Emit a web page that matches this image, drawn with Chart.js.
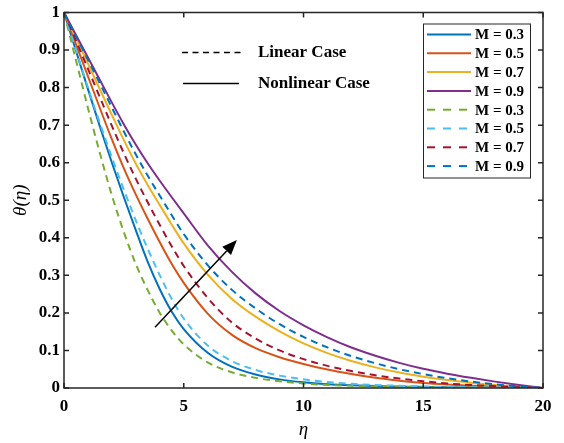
<!DOCTYPE html>
<html>
<head>
<meta charset="utf-8">
<script src="https://cdn.jsdelivr.net/npm/chart.js@4.4.1/dist/chart.umd.min.js"></script>
<style>
  html, body { margin: 0; padding: 0; background: #fff; }
</style>
</head>
<body>
<canvas id="c" width="564" height="443"></canvas>
<script>
// eta grid and temperature profiles theta(eta)
const eta = [0, 0.5, 1, 1.5, 2, 2.5, 3, 3.5, 4, 4.5, 5, 6, 7, 8, 9, 10, 11, 12, 13, 14, 15, 16, 17, 18, 19, 20];

const nonlinearM03 = [1, 0.898, 0.796, 0.696, 0.6, 0.508, 0.42, 0.335, 0.263, 0.203, 0.157, 0.094, 0.057, 0.036, 0.023, 0.015, 0.01, 0.007, 0.005, 0.004, 0.003, 0.002, 0.0015, 0.001, 0.0005, 0];
const nonlinearM05 = [1, 0.915, 0.83, 0.745, 0.662, 0.585, 0.515, 0.45, 0.388, 0.33, 0.28, 0.198, 0.142, 0.106, 0.082, 0.064, 0.049, 0.037, 0.027, 0.019, 0.013, 0.009, 0.006, 0.004, 0.002, 0];
const nonlinearM07 = [1, 0.932, 0.864, 0.795, 0.727, 0.66, 0.597, 0.54, 0.487, 0.435, 0.385, 0.302, 0.238, 0.19, 0.151, 0.119, 0.093, 0.072, 0.055, 0.041, 0.03, 0.021, 0.014, 0.008, 0.004, 0];
const nonlinearM09 = [1, 0.94, 0.88, 0.82, 0.76, 0.702, 0.648, 0.598, 0.552, 0.508, 0.465, 0.38, 0.31, 0.252, 0.205, 0.167, 0.135, 0.108, 0.086, 0.067, 0.051, 0.038, 0.027, 0.017, 0.008, 0];

const linearM03 = [1, 0.873, 0.746, 0.625, 0.513, 0.415, 0.33, 0.26, 0.2, 0.153, 0.116, 0.068, 0.042, 0.027, 0.018, 0.012, 0.008, 0.006, 0.004, 0.003, 0.002, 0.0015, 0.001, 0.001, 0.0005, 0];
const linearM05 = [1, 0.9, 0.8, 0.705, 0.614, 0.528, 0.446, 0.37, 0.3, 0.237, 0.185, 0.113, 0.072, 0.048, 0.033, 0.023, 0.016, 0.011, 0.008, 0.006, 0.004, 0.003, 0.002, 0.0015, 0.001, 0];
const linearM07 = [1, 0.925, 0.85, 0.774, 0.698, 0.625, 0.557, 0.494, 0.434, 0.377, 0.325, 0.24, 0.175, 0.132, 0.1, 0.077, 0.059, 0.045, 0.034, 0.025, 0.018, 0.012, 0.008, 0.005, 0.002, 0];
const linearM09 = [1, 0.937, 0.874, 0.811, 0.747, 0.683, 0.622, 0.565, 0.512, 0.46, 0.41, 0.327, 0.262, 0.212, 0.17, 0.136, 0.108, 0.085, 0.066, 0.05, 0.037, 0.026, 0.017, 0.01, 0.004, 0];

const mValues = ["0.3", "0.5", "0.7", "0.9"];
// arrow showing increasing M, in data units (eta, theta)
const arrowFrom = [3.8, 0.162];
const arrowTo = [7.22, 0.394];

const serif = '"Liberation Serif", "Times New Roman", serif';

const series = [
  { values: nonlinearM03, color: "#0072BD", dash: [] },
  { values: nonlinearM05, color: "#D95319", dash: [] },
  { values: nonlinearM07, color: "#EDB120", dash: [] },
  { values: nonlinearM09, color: "#7E2F8E", dash: [] },
  { values: linearM03, color: "#77AC30", dash: [7, 5] },
  { values: linearM05, color: "#4DBEEE", dash: [7, 5] },
  { values: linearM07, color: "#A2142F", dash: [7, 5] },
  { values: linearM09, color: "#0072BD", dash: [7, 5] }
];

const datasets = series.map((s, i) => ({
  label: "M = " + mValues[i % 4],
  data: eta.map((x, j) => ({ x, y: s.values[j] })),
  borderColor: s.color,
  borderDash: s.dash,
  borderWidth: 2,
  pointRadius: 0,
  fill: false,
  cubicInterpolationMode: "monotone",
  order: series.length - i
}));

const frameAndNotes = {
  id: "frameAndNotes",
  afterDatasetsDraw(chart) {
    const { ctx, chartArea: a, scales: { x, y } } = chart;
    ctx.save();
    ctx.strokeStyle = "#262626";
    ctx.lineWidth = 1.5;
    ctx.strokeRect(a.left, a.top, a.right - a.left, a.bottom - a.top);
    ctx.beginPath();
    x.ticks.forEach(t => {
      const px = x.getPixelForValue(t.value);
      ctx.moveTo(px, a.bottom); ctx.lineTo(px, a.bottom - 5);
      ctx.moveTo(px, a.top); ctx.lineTo(px, a.top + 5);
    });
    y.ticks.forEach(t => {
      const py = y.getPixelForValue(t.value);
      ctx.moveTo(a.left, py); ctx.lineTo(a.left + 5, py);
      ctx.moveTo(a.right, py); ctx.lineTo(a.right - 5, py);
    });
    ctx.stroke();

    // arrow
    const x0 = x.getPixelForValue(arrowFrom[0]), y0 = y.getPixelForValue(arrowFrom[1]);
    const x1 = x.getPixelForValue(arrowTo[0]), y1 = y.getPixelForValue(arrowTo[1]);
    const ang = Math.atan2(y1 - y0, x1 - x0);
    const hl = 15, hw = 6;
    ctx.strokeStyle = "#000";
    ctx.lineWidth = 1.5;
    ctx.beginPath();
    ctx.moveTo(x0, y0);
    ctx.lineTo(x1 - hl * Math.cos(ang), y1 - hl * Math.sin(ang));
    ctx.stroke();
    ctx.fillStyle = "#000";
    ctx.beginPath();
    ctx.moveTo(x1, y1);
    ctx.lineTo(x1 - hl * Math.cos(ang) + hw * Math.sin(ang), y1 - hl * Math.sin(ang) - hw * Math.cos(ang));
    ctx.lineTo(x1 - hl * Math.cos(ang) - hw * Math.sin(ang), y1 - hl * Math.sin(ang) + hw * Math.cos(ang));
    ctx.closePath();
    ctx.fill();
    ctx.restore();
  },
  afterDraw(chart) {
    const { ctx, chartArea: a } = chart;
    ctx.save();
    // case key
    ctx.strokeStyle = "#000";
    ctx.lineWidth = 1.3;
    ctx.setLineDash([6, 4.5]);
    ctx.beginPath();
    ctx.moveTo(a.left + 118, a.top + 40); ctx.lineTo(a.left + 180, a.top + 40);
    ctx.stroke();
    ctx.setLineDash([]);
    ctx.beginPath();
    ctx.moveTo(a.left + 119, a.top + 71); ctx.lineTo(a.left + 175, a.top + 71);
    ctx.stroke();
    ctx.fillStyle = "#000";
    ctx.font = "bold 17px " + serif;
    ctx.textBaseline = "middle";
    ctx.textAlign = "left";
    ctx.fillText("Linear Case", a.left + 194, a.top + 40);
    ctx.fillText("Nonlinear Case", a.left + 194, a.top + 71);

    // legend box
    const bx = a.right - 120, by = a.top + 11, bw = 107, bh = 154;
    ctx.fillStyle = "#fff";
    ctx.fillRect(bx, by, bw, bh);
    ctx.strokeStyle = "#262626";
    ctx.lineWidth = 1;
    ctx.strokeRect(bx + 0.5, by + 0.5, bw, bh);
    ctx.font = "bold 15px " + serif;
    chart.data.datasets.forEach((d, i) => {
      const ry = by + 11 + i * 18.8;
      ctx.strokeStyle = d.borderColor;
      ctx.lineWidth = 2;
      ctx.setLineDash(d.borderDash.length ? [8, 8] : []);
      ctx.beginPath();
      ctx.moveTo(bx + 4, ry); ctx.lineTo(bx + 48, ry);
      ctx.stroke();
      ctx.setLineDash([]);
      ctx.fillStyle = "#000";
      ctx.fillText(d.label, bx + 52, ry + 1);
    });
    ctx.restore();
  }
};

new Chart(document.getElementById("c"), {
  type: "line",
  data: { datasets },
  options: {
    responsive: false,
    animation: false,
    devicePixelRatio: 1,
    layout: { padding: { top: 4, right: 21, left: 0, bottom: 0 } },
    plugins: { legend: { display: false }, tooltip: { enabled: false } },
    scales: {
      x: {
        type: "linear", min: 0, max: 20,
        grid: { display: false, drawTicks: false }, border: { display: false },
        ticks: { stepSize: 5, color: "#000", padding: 8, maxRotation: 0, font: { family: serif, size: 17, weight: "bold" } },
        title: { display: true, text: "η", color: "#000", padding: { top: 0, bottom: 2 }, font: { family: serif, size: 19, style: "italic" } },
        afterFit: s => { s.height = 55; }
      },
      y: {
        type: "linear", min: 0, max: 1,
        grid: { display: false, drawTicks: false }, border: { display: false },
        ticks: { stepSize: 0.1, color: "#000", padding: 4, font: { family: serif, size: 17, weight: "bold", lineHeight: 1 },
                 callback: v => String(Math.round(v * 10) / 10) },
        title: { display: true, text: "θ(η)", color: "#000", padding: { top: 10, bottom: 0 }, font: { family: serif, size: 19, style: "italic" } },
        afterFit: s => { s.width = 64; }
      }
    }
  },
  plugins: [frameAndNotes]
});
</script>
</body>
</html>
